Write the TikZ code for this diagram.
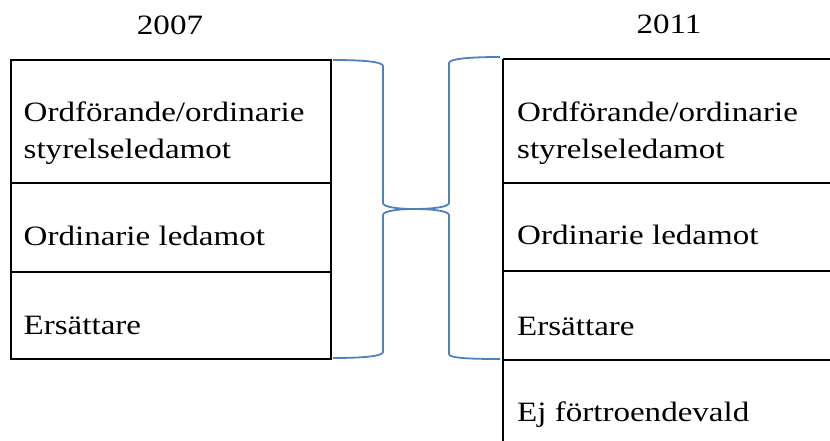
\documentclass[tikz,border=0pt]{standalone}
\usepackage{fontspec}
\setmainfont{Liberation Serif}[FakeStretch=1.18]
\definecolor{bracecol}{RGB}{79,129,189}
\begin{document}
\begin{tikzpicture}[x=1pt,y=-1pt,
  cell/.style={line width=1.7pt,draw=black},
  bracepath/.style={draw=bracecol,line width=1.8pt,line join=round},
  lbl/.style={anchor=base west,inner sep=0pt,align=left,font=\fontsize{28}{36}\selectfont},
  yearlbl/.style={anchor=base,inner sep=0pt,font=\fontsize{28}{36}\selectfont}]
\useasboundingbox (0,0) rectangle (830,441);
% left table
\draw[cell] (11,60) rectangle (331,359);
\draw[cell] (11,183) -- (331,183);
\draw[cell] (11,272) -- (331,272);
% right table
\draw[cell] (503,59) -- (503,441);
\draw[cell] (503,59) -- (830,59);
\draw[cell] (503,183) -- (830,183);
\draw[cell] (503,271) -- (830,271);
\draw[cell] (503,360) -- (830,360);
% headers
\node[yearlbl] (y1) at (170,35) {2007};
\node[yearlbl] (y2) at (669,34) {2011};
% left labels
\node[lbl] (l1) at (23.5,158) {Ordförande/ordinarie\\styrelseledamot};
\node[lbl] (l2) at (23.5,245) {Ordinarie ledamot};
\node[lbl] (l3) at (23.5,334) {Ersättare};
% right labels
\node[lbl] (r1) at (517,158) {Ordförande/ordinarie\\styrelseledamot};
\node[lbl] (r2) at (517,244) {Ordinarie ledamot};
\node[lbl] (r3) at (517,335) {Ersättare};
\node[lbl] (r4) at (517,421) {Ej förtroendevald};
% braces
\coordinate (tip) at (415,209);
\draw[bracepath] (333,60) .. controls (365,60) and (383,62) .. (383,66)
  -- (383,203) .. controls (383,207) and (398,209) .. (tip)
  .. controls (398,209) and (383,211) .. (383,215)
  -- (383,352) .. controls (383,356) and (365,358) .. (333,358);
\draw[bracepath] (500,57) .. controls (468,57) and (449,59) .. (449,63)
  -- (449,203) .. controls (449,207) and (432,209) .. (tip)
  .. controls (432,209) and (449,211) .. (449,215)
  -- (449,354) .. controls (449,358) and (468,359) .. (500,359);
\end{tikzpicture}
\end{document}
